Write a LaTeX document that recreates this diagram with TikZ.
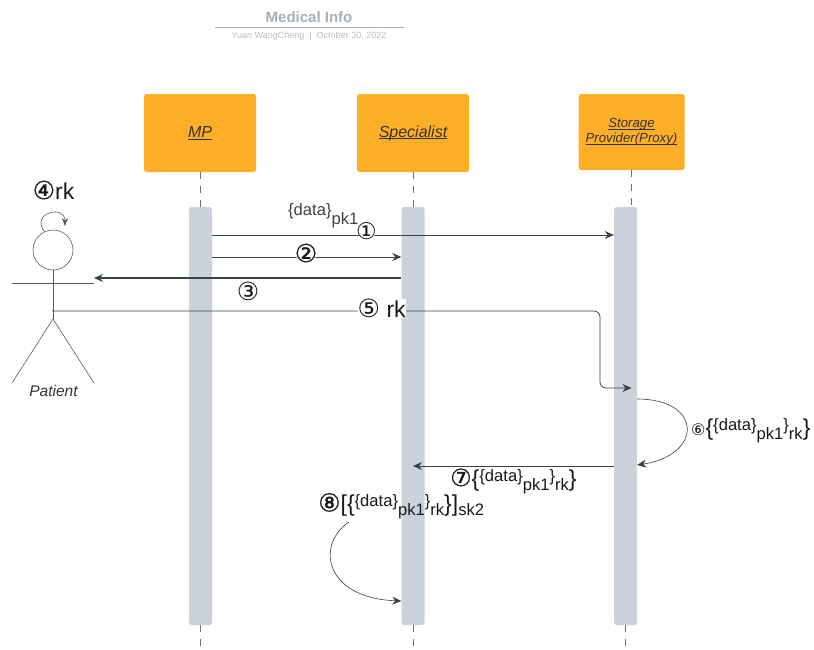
\documentclass[tikz,border=0pt]{standalone}
\usepackage{fontspec}
\setmainfont{Liberation Sans}
\newfontfamily\circfont{DejaVu Sans}
\newfontfamily\circfontb[FakeBold=0.6]{DejaVu Sans}
\usetikzlibrary{arrows.meta}

\definecolor{boxorange}{HTML}{FFAE28}
\definecolor{barblue}{HTML}{CBD2DB}
\definecolor{linedark}{HTML}{3A414A}
\definecolor{titlegray}{HTML}{A9AFB8}
\definecolor{subgray}{HTML}{B8BCC4}

\newcommand{\sized}[1]{\fontsize{#1}{#1}\selectfont}
\newcommand{\circno}[2]{{\circfont\sized{#1}#2}}
\newcommand{\circbold}[2]{{\circfontb\sized{#1}#2}}
\newcommand{\ulabel}[1]{\setbox0\hbox{#1}\rlap{\rule[-1.8pt]{\wd0}{0.7pt}}\box0}
\newcommand{\datapk}{\raisebox{5pt}{\{data\}}\raisebox{-4pt}{pk1}}
\newcommand{\datark}{{\sized{23}\{}\datapk\raisebox{5pt}{\}}\raisebox{-4pt}{rk}{\sized{23}\}}}

\tikzset{
    actorbox/.style={fill=boxorange, rounded corners=2.5pt, minimum width=112pt, minimum height=78pt,
        inner sep=0pt, align=center, text=black!80, font=\sized{16}\itshape},
    actbar/.style={fill=barblue, rounded corners=2.5pt, minimum width=23pt, minimum height=418pt, inner sep=0pt},
    lifeline/.style={linedark!75, line width=0.9pt, dash pattern=on 7pt off 7pt},
    msg/.style={->, linedark, line width=0.8pt},
    msglabel/.style={inner sep=0pt, text=black!90, font=\sized{16.6}},
    stick/.style={black!65, line width=0.6pt},
}

\begin{document}
\begin{tikzpicture}[x=1pt, y=-1pt, >={Stealth[length=9pt,width=8pt]}]
    \useasboundingbox (0,0) rectangle (814,649);

    % title
    \node[inner sep=0pt, text=titlegray, font=\sized{15}\bfseries] (title) at (309,17) {Medical Info};
    \draw[titlegray, line width=0.8pt] (215,27.5) -- (404,27.5);
    \node[inner sep=0pt, text=subgray, font=\sized{9}] (subtitle) at (309,36) {Yuan WangCheng \ | \ October 30, 2022};

    % heads of the lifelines
    \node[actorbox] (mp) at (200,133) {\ulabel{MP}};
    \node[actorbox] (spec) at (413,133) {\ulabel{Specialist}};
    \node[actorbox, minimum width=106pt, minimum height=76pt, font=\sized{13.2}\itshape] (store) at (631.5,132)
        {\ulabel{Storage}\\[2pt]\ulabel{Provider(Proxy)}};

    % bars
    \node[actbar] (mpbar) at (200.5,416) {};
    \node[actbar] (specbar) at (413,416) {};
    \node[actbar] (storebar) at (625.5,416) {};

    % lifelines
    \coordinate (mpend) at (200.5,649);
    \coordinate (specend) at (413,649);
    \coordinate (storeend) at (625.5,649);
    \draw[lifeline] (mp.south) -- (mp.south |- mpbar.north);
    \draw[lifeline] (spec.south) -- (specbar.north);
    \draw[lifeline] (store.south) -- (store.south |- storebar.north);
    \draw[lifeline] (mpbar.south) -- (mpend);
    \draw[lifeline] (specbar.south) -- (specend);
    \draw[lifeline] (storebar.south) -- (storeend);

    % patient
    \node[circle, draw=black!65, line width=0.6pt, minimum size=40pt, inner sep=0pt] (head) at (53,250) {};
    \coordinate (hip) at (53,319);
    \coordinate (handl) at (12,283);
    \coordinate (handr) at (94,283);
    \coordinate (footl) at (12,383);
    \coordinate (footr) at (94,383);
    \coordinate (belly) at (52,311);
    \draw[stick] (head.south) -- (hip);
    \draw[stick] (handl) -- (handr);
    \draw[stick] (footl) -- (hip) -- (footr);
    \node[inner sep=0pt, text=black!80, font=\sized{15.5}\itshape] (patient) at (53.5,390.5) {Patient};
    \draw[->, stick, >={Stealth[length=8pt,width=6pt]}] (head.115) .. controls (30,213) and (65,204) .. (65,226);
    \node[msglabel, font=\sized{23}] (lfour) at (53.5,190) {\circbold{25}{④}rk};

    % messages
    \draw[msg] (mpbar.east |- 0,235) -- (storebar.west |- 0,235);
    \draw[msg] (mpbar.east |- 0,257) -- (specbar.west |- 0,257);
    \draw[msg, line width=1.1pt] (specbar.west |- 0,278) -- (handr |- 0,278);
    \draw[msg, rounded corners=6pt] (belly) -- (600,311) -- (600,388) -- (store.south |- 0,388);
    \draw[msg, line width=0.6pt] (storebar.east |- 0,399) .. controls (703,399) and (703,455) .. (storebar.east |- 0,465);
    \draw[msg, line width=1pt] (storebar.west |- 0,466) -- (specbar.center |- 0,466);
    \coordinate (curvestart) at (349,522);
    \draw[msg, line width=0.6pt] (curvestart) .. controls (315,545) and (325,598) .. (specbar.west |- 0,601);

    % labels
    \node[msglabel, text=black!75, anchor=west] (ldata) at (288,216) {\datapk};
    \node[msglabel, fill=white, inner sep=-3pt, circle] (lone) at (366.5,231) {\circno{23}{①}};
    \node[msglabel, fill=white, inner sep=-3pt, circle] (ltwo) at (306,253) {\circbold{25}{②}};
    \node[msglabel] (lthree) at (248,291) {\circno{25}{③}};
    \node[msglabel, fill=white, anchor=west, font=\sized{23}] (lfive) at (357.5,308) {\circno{25}{⑤} rk};
    \node[msglabel, anchor=west] (lsix) at (691,431) {\circno{16}{⑥}\datark};
    \node[msglabel, anchor=west] (lseven) at (450,481) {\circbold{24}{⑦}\datark};
    \node[msglabel, anchor=west] (leight) at (318,506) {\circbold{25}{⑧}{\sized{23}[}\datark{\sized{23}]}\raisebox{-4pt}{sk2}};
\end{tikzpicture}
\end{document}
